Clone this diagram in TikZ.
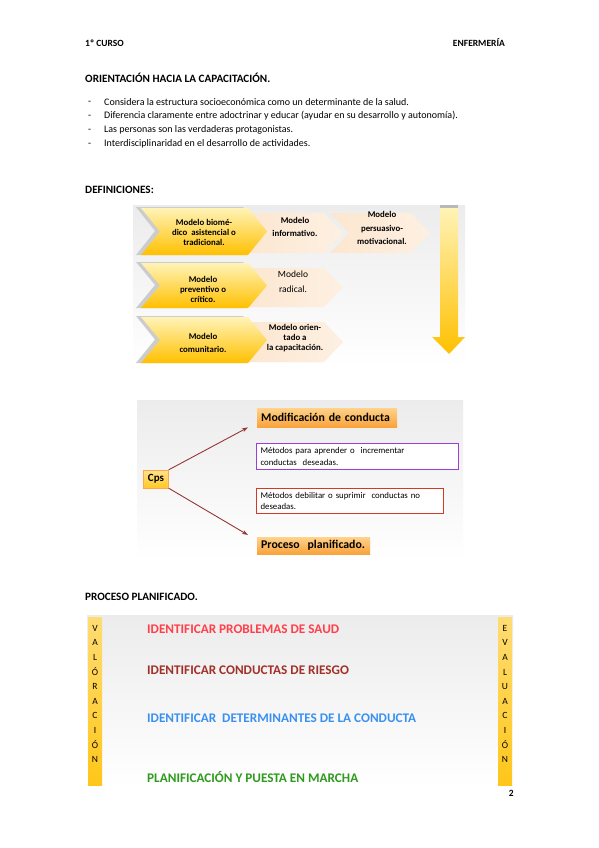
\documentclass[tikz,border=0pt]{standalone}
\usepackage{fontspec}
\setmainfont{Carlito}
\usetikzlibrary{arrows.meta}

\definecolor{gold}{HTML}{FFC000}
\definecolor{paleyellow}{HTML}{FFF3B8}
\definecolor{peach}{HTML}{FCE6CF}
\definecolor{orangetop}{HTML}{FFD28A}
\definecolor{orangebot}{HTML}{F9A23A}
\definecolor{arrowred}{HTML}{953735}
\definecolor{boxpurple}{HTML}{9B3FD6}
\definecolor{boxred}{HTML}{D03A26}
\definecolor{txtred}{HTML}{FF3F4A}
\definecolor{txtbrown}{HTML}{A0302A}
\definecolor{txtblue}{HTML}{3A90F0}
\definecolor{txtgreen}{HTML}{2E9A1E}

% chevron: left x, tip x, top y, bottom y, fill options
\newcommand{\chevron}[5]{%
  \path[#5] (#1,#3) -- ({#2-19},#3) -- (#2,{(#3+#4)/2}) -- ({#2-19},#4)
    -- (#1,#4) -- ({#1+19},{(#3+#4)/2}) -- cycle;}

\begin{document}
\begin{tikzpicture}[
    x=1pt, y=-1pt,
    every node/.style={inner sep=0pt},
    hdr/.style={anchor=west, font=\bfseries\fontsize{9.5}{11}\selectfont},
    sectitle/.style={anchor=west, font=\bfseries\fontsize{11.2}{13}\selectfont},
    body/.style={anchor=west, font=\fontsize{10}{12}\selectfont},
    chevtxt/.style={align=center, font=\bfseries\fontsize{8.8}{10}\selectfont},
    yellowchev/.style={top color=paleyellow, bottom color=gold},
    lightchev/.style={left color=peach, right color=peach!60!white},
    panel/.style={top color=gray!15, bottom color=white},
    orangebox/.style={anchor=north west, top color=orangetop, bottom color=orangebot,
        inner xsep=4pt, align=left, font=\bfseries\fontsize{11.8}{13}\selectfont},
    methodbox/.style={anchor=north west, fill=white, line width=1pt, inner xsep=4pt,
        align=left, font=\fontsize{8.8}{11.5}\selectfont},
    cpsarrow/.style={draw=arrowred, line width=0.9pt, -{Stealth[length=6pt, width=4pt]}},
    yellowbar/.style={top color=gold!55!white, bottom color=gold!90!white},
    barletters/.style={align=center, font=\fontsize{9.5}{14.6}\selectfont},
    steptxt/.style={anchor=west, font=\bfseries\fontsize{13.2}{15}\selectfont}
]
\useasboundingbox (0,0) rectangle (599,848);
\fill[white] (0,0) rectangle (599,848);

% --- Header ---
\node[hdr] (curso) at (85,43) {1º CURSO};
\node[hdr, anchor=east] (enfermeria) at (505,43) {ENFERMERÍA};

% --- Orientacion ---
\node[sectitle] (orientacion) at (85,78) {ORIENTACIÓN HACIA LA CAPACITACIÓN.};
\node[body] (dash1) at (88,103) {-};
\node[body] (punto1) at (104,102) {Considera la estructura socioeconómica como un determinante de la salud.};
\node[body] (dash2) at (88,117) {-};
\node[body] (punto2) at (104,116) {Diferencia claramente entre adoctrinar y educar (ayudar en su desarrollo y autonomía).};
\node[body] (dash3) at (88,131) {-};
\node[body] (punto3) at (104,130) {Las personas son las verdaderas protagonistas.};
\node[body] (dash4) at (88,145) {-};
\node[body] (punto4) at (104,144) {Interdisciplinaridad en el desarrollo de actividades.};

% --- Definiciones ---
\node[sectitle] (definiciones) at (85,190) {DEFINICIONES:};
\path[panel] (133,205) rectangle (465,367);

% row 1
\chevron{330}{430}{213}{253}{lightchev}
\chevron{240}{343}{213}{253}{lightchev}
\chevron{136}{262}{207}{255}{fill=gray!40}
\chevron{141}{267}{208}{255}{yellowchev}
% row 2
\chevron{240}{343}{268}{307}{lightchev}
\chevron{136}{262}{262}{308}{fill=gray!40}
\chevron{141}{267}{263}{308}{yellowchev}
% row 3
\chevron{240}{343}{322}{362}{lightchev}
\chevron{136}{262}{316}{363}{fill=gray!40}
\chevron{141}{267}{317}{363}{yellowchev}

\node[chevtxt] (biomedico) at (204,232) {Modelo biomé-\\dico\ \ asistencial o\\tradicional.};
\node[chevtxt, font=\bfseries\fontsize{8.8}{13}\selectfont] (informativo) at (295,227) {Modelo\\informativo.};
\node[chevtxt, font=\bfseries\fontsize{8.8}{13.5}\selectfont] (persuasivo) at (382,228) {Modelo\\persuasivo-\\motivacional.};
\node[chevtxt] (preventivo) at (203,289) {Modelo\\preventivo o\\crítico.};
\node[chevtxt, font=\fontsize{9.5}{15}\selectfont] (radical) at (293,282) {Modelo\\radical.};
\node[chevtxt, font=\bfseries\fontsize{8.8}{13}\selectfont] (comunitario) at (203,343) {Modelo\\comunitario.};
\node[chevtxt] (capacitacion) at (295,338) {Modelo orien-\\tado a\\la capacitación.};

% down arrow
\path[top color=paleyellow, bottom color=gold]
  (440,207) -- (458,207) -- (458,337) -- (465,337) -- (449,354) -- (432,337) -- (440,337) -- cycle;
\fill[gray!55] (440,205) rectangle (458,208);

% --- Cps ---
\path[panel] (137,400) rectangle (463,560);
\node[draw=orange!70, top color=gold!45!white, bottom color=gold!85!white,
      minimum width=25pt, minimum height=18pt,
      font=\bfseries\fontsize{11}{12}\selectfont] (cps) at (156,479) {Cps};
\node[orangebox, text width=132pt, minimum height=19pt] (modificacion) at (257,408) {Modificación de conducta};
\node[methodbox, draw=boxpurple, text width=194pt, minimum height=26pt] (aprender) at (256,443)
  {Métodos\ para\ aprender\ o\ \ incrementar\\conductas\ \ deseadas.};
\node[methodbox, draw=boxred, text width=179pt, minimum height=25pt] (debilitar) at (256,488)
  {Métodos\ debilitar\ o\ suprimir\ \ conductas\ no\\deseadas.};
\node[orangebox, text width=105pt, minimum height=17pt] (proceso) at (257,537) {Proceso\ \ planificado.};

\draw[cpsarrow] (cps.north east) -- ([xshift=-9pt]modificacion.south west);
\draw[cpsarrow] (cps.south east) -- ([xshift=-9pt, yshift=2pt]proceso.north west);

% --- Proceso planificado ---
\node[sectitle] (planificado) at (85,597) {PROCESO PLANIFICADO.};
\path[panel] (87,615) rectangle (513,787);
\path[yellowbar] (88,617) rectangle (102,785);
\path[yellowbar] (498,617) rectangle (512,785);
\node[barletters] (valoracion) at (95,694) {V\\A\\L\\Ó\\R\\A\\C\\I\\Ó\\N};
\node[barletters] (evaluacion) at (505,694) {E\\V\\A\\L\\U\\A\\C\\I\\Ó\\N};

\node[steptxt, txtred] (problemas) at (147,629) {IDENTIFICAR PROBLEMAS DE SAUD};
\node[steptxt, txtbrown] (riesgo) at (147,670) {IDENTIFICAR CONDUCTAS DE RIESGO};
\node[steptxt, txtblue] (determinantes) at (147,718) {IDENTIFICAR~ DETERMINANTES DE LA CONDUCTA};
\node[steptxt, txtgreen] (marcha) at (147,777) {PLANIFICACIÓN Y PUESTA EN MARCHA};

\node[hdr, anchor=east] (pagina) at (514,793) {2};

\end{tikzpicture}
\end{document}
